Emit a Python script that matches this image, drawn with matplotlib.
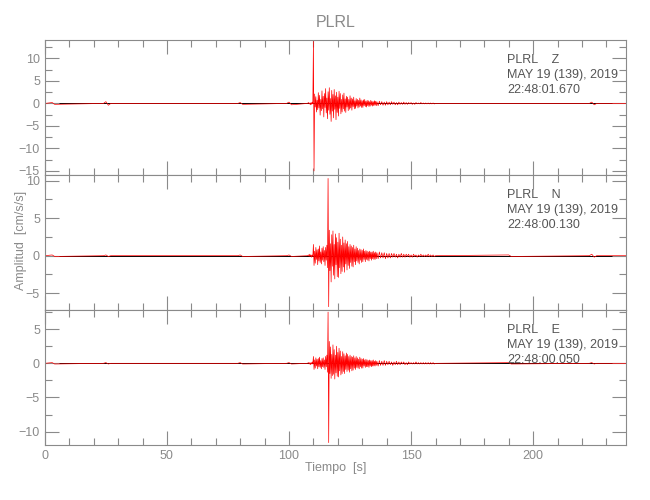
import numpy as np
import matplotlib
matplotlib.use('Agg')
import matplotlib.pyplot as plt
from matplotlib.ticker import MultipleLocator

plt.rcParams['font.family'] = ['Liberation Sans', 'DejaVu Sans']

# datos de las trazas (aceleracion, cm/s/s)
station = 'PLRL'
components = ['Z', 'N', 'E']
fecha = 'MAY 19 (139), 2019'
horas = ['22:48:01.670', '22:48:00.130', '22:48:00.050']

# llegada: muestras cada 0.25 s desde 108 s
fine_start = 108.0
fine_dt = 0.25
fine_z = [0.2, -0.1, 0.1, -0.3, 0.2, -0.2, 0.3, -0.1,
          13.8, -15.0, 2.1, -0.8, 1.5, -1.9, 0.7, -1.4,
          2.4, -1.0, 1.8, -2.6, 0.9, -1.6, 2.8, -1.2,
          1.6, -3.0, 2.2, -0.9, 3.3, -2.1, 1.2, -3.4,
          2.6, -1.5, 3.5, -2.4, 1.1, -4.0, 2.9, -1.7,
          2.0, -3.2, 3.1, -1.3, 1.7, -3.6, 2.5, -2.0,
          1.4, -2.8, 2.7, -1.1, 2.2, -2.3, 0.9, -1.9,
          1.9, -1.2, 2.3, -1.7, 1.0, -2.0, 1.6, -0.8,
          1.4, -1.6, 0.9, -1.3, 1.7, -1.0, 1.2, -1.5,
          1.0, -0.7, 1.4, -1.2, 0.6, -1.1, 1.1, -0.6,
          0.9, -1.0, 0.7, -0.8, 1.2, -0.6, 0.8, -0.9,
          0.6, -0.9, 0.8, -0.5, 0.9, -0.7, 0.5, -0.8,
          0.7, -0.5, 0.6, -0.7, 0.4, -0.6, 0.7, -0.4,
          0.5, -0.6, 0.4, -0.5, 0.6, -0.4, 0.5, -0.5]
fine_n = [0.1, -0.1, 0.2, -0.1, 0.1, -0.2, 0.1, -0.1,
          1.5, -1.3, 0.6, -1.0, 1.1, -0.5, 0.8, -1.2,
          0.9, -0.7, 1.3, -0.9, 0.5, -1.1, 1.0, -0.6,
          1.2, -0.8, 0.7, -1.3, 1.1, -0.6, 1.4, -1.6,
          10.3, -6.8, 3.4, -2.0, 1.6, -3.5, 2.8, -1.4,
          3.3, -2.6, 1.5, -3.1, 2.9, -1.2, 2.4, -2.8,
          1.8, -2.9, 3.0, -1.6, 2.2, -2.4, 1.4, -2.1,
          2.5, -1.5, 1.7, -2.2, 2.1, -1.1, 1.6, -1.9,
          1.9, -1.3, 1.2, -1.7, 1.5, -0.9, 1.3, -1.4,
          1.1, -1.5, 1.4, -0.8, 0.9, -1.2, 1.2, -0.7,
          1.0, -0.9, 0.7, -1.1, 0.9, -0.6, 0.8, -0.9,
          0.7, -0.8, 0.9, -0.5, 0.6, -0.8, 0.7, -0.5,
          0.6, -0.6, 0.5, -0.7, 0.6, -0.4, 0.5, -0.6,
          0.5, -0.4, 0.6, -0.5, 0.4, -0.5, 0.5, -0.4]
fine_e = [0.1, -0.1, 0.1, -0.2, 0.1, -0.1, 0.2, -0.1,
          1.0, -0.9, 0.5, -0.7, 0.8, -0.4, 0.6, -0.8,
          0.7, -0.5, 0.9, -0.6, 0.4, -0.8, 0.7, -0.5,
          0.8, -0.6, 0.5, -0.9, 1.0, -0.5, 1.2, -1.3,
          7.5, -11.6, 3.2, -1.5, 2.4, -2.2, 1.3, -1.8,
          2.7, -1.6, 2.0, -2.3, 1.2, -1.4, 2.5, -1.9,
          1.6, -2.0, 2.2, -1.1, 1.8, -1.7, 1.0, -1.5,
          1.7, -1.2, 1.4, -1.5, 1.1, -0.9, 1.5, -1.2,
          1.3, -1.0, 1.0, -1.3, 1.2, -0.8, 1.0, -1.1,
          0.9, -1.0, 1.1, -0.7, 0.8, -0.9, 1.0, -0.6,
          0.8, -0.7, 0.6, -0.8, 0.9, -0.5, 0.7, -0.7,
          0.6, -0.7, 0.7, -0.4, 0.5, -0.6, 0.6, -0.5,
          0.5, -0.5, 0.4, -0.6, 0.5, -0.4, 0.4, -0.5,
          0.4, -0.4, 0.5, -0.4, 0.3, -0.4, 0.4, -0.3]

# coda: muestras cada 0.5 s desde 136 s
tail_start = 136.0
tail_dt = 0.5
tail_z = [0.4, -0.5, 0.5, -0.3, 0.4, -0.4, 0.3, -0.4, 0.4, -0.3,
          0.3, -0.3, 0.4, -0.2, 0.3, -0.3, 0.2, -0.3, 0.3, -0.2,
          0.2, -0.2, 0.3, -0.2, 0.2, -0.2, 0.2, -0.1, 0.2, -0.2,
          0.1, -0.2, 0.2, -0.1, 0.1, -0.1, 0.2, -0.1, 0.1, -0.1,
          0.1, -0.1, 0.1, -0.1, 0.1, -0.1, 0.1, -0.1]
tail_n = [0.4, -0.4, 0.5, -0.3, 0.4, -0.3, 0.4, -0.4, 0.3, -0.3,
          0.3, -0.3, 0.3, -0.2, 0.3, -0.2, 0.2, -0.3, 0.2, -0.2,
          0.3, -0.2, 0.2, -0.2, 0.2, -0.1, 0.2, -0.2, 0.1, -0.2,
          0.2, -0.1, 0.1, -0.2, 0.1, -0.1, 0.2, -0.1, 0.1, -0.1,
          0.1, -0.1, 0.2, -0.1, 0.1, -0.1, 0.1, -0.1]
tail_e = [0.3, -0.4, 0.4, -0.3, 0.3, -0.3, 0.4, -0.3, 0.3, -0.2,
          0.3, -0.2, 0.2, -0.3, 0.2, -0.2, 0.3, -0.2, 0.2, -0.2,
          0.2, -0.1, 0.2, -0.2, 0.1, -0.2, 0.2, -0.1, 0.1, -0.1,
          0.1, -0.1, 0.2, -0.1, 0.1, -0.1, 0.1, -0.1, 0.1, -0.1,
          0.1, -0.1, 0.1, -0.1, 0.1, -0.1, 0.1, -0.1]

# ruido de fondo fuera de la llegada
quiet_t = [0, 3, 4, 24, 25, 26, 27, 79, 80, 81, 99, 100, 101, 107.5,
           160, 190, 191, 223, 224, 225, 226, 238]
quiet_z = [0, 0.2, -0.2, 0, 0.4, -0.4, 0, 0, 0.2, -0.2, 0, 0.3, -0.3, 0,
           0, 0, 0, 0, 0.3, -0.3, 0, 0]
quiet_n = [0, 0.1, -0.1, 0, 0.1, -0.1, 0, 0, 0.1, -0.1, 0, 0.1, -0.1, 0,
           0, 0.1, -0.1, 0, 0.2, -0.2, 0, 0]
quiet_e = [0, 0.1, -0.1, 0, 0.1, -0.1, 0, 0, 0.1, -0.1, 0, 0.1, -0.1, 0,
           0, 0.1, -0.1, 0, 0.1, -0.1, 0, 0]

ylims = [(-15.9, 14.1), (-7.24, 10.76), (-11.95, 7.8)]
xmax = 238

gris = '#8a8a8a'
texto = '#555555'

fig = plt.figure(figsize=(6.5, 5.0), dpi=100)
left, width = 0.069, 0.894
tops = [0.92, 0.65, 0.38]
h = 0.27

fines = [fine_z, fine_n, fine_e]
tails = [tail_z, tail_n, tail_e]
quiets = [quiet_z, quiet_n, quiet_e]
for k in range(3):
    ax = fig.add_axes([left, tops[k] - h, width, h])
    f = np.array(fines[k])
    tf = fine_start + fine_dt * np.arange(len(f))
    c = np.array(tails[k])
    tc = tail_start + tail_dt * np.arange(len(c))
    qt = np.array(quiet_t)
    qa = np.array(quiets[k])
    t = np.concatenate([qt[qt < fine_start], tf, tc, qt[qt > tc[-1]]])
    a = np.concatenate([qa[qt < fine_start], f, c, qa[qt > tc[-1]]])

    ax.axhline(0, color='black', lw=0.7, zorder=1)
    ax.plot(t, a, color='red', lw=0.5, zorder=2)
    ax.set_xlim(0, xmax)
    ax.set_ylim(*ylims[k])

    ax.xaxis.set_major_locator(MultipleLocator(50))
    ax.xaxis.set_minor_locator(MultipleLocator(10))
    ax.yaxis.set_major_locator(MultipleLocator(5))
    ax.yaxis.set_minor_locator(MultipleLocator(2.5))
    ax.tick_params(which='both', direction='in', top=True, right=True,
                   color=gris, labelcolor=gris, labelsize=9, width=0.8)
    ax.tick_params(which='major', length=10)
    ax.tick_params(which='minor', length=5)
    for s in ax.spines.values():
        s.set_color(gris)
        s.set_linewidth(0.8)
    if k < 2:
        ax.tick_params(labelbottom=False)

    # etiqueta de la componente
    y0 = 1 - (60 + 135 * k) / 500
    fig.text(0.78, y0, f'{station}    {components[k]}', color=texto, fontsize=9, va='center')
    fig.text(0.78, y0 - 15 / 500, fecha, color=texto, fontsize=9, va='center')
    fig.text(0.78, y0 - 30 / 500, horas[k], color=texto, fontsize=9, va='center')

fig.text(0.517, 0.955, station, color=gris, fontsize=11.5, ha='center', va='center')
fig.text(0.517, 0.064, 'Tiempo  [s]', color=gris, fontsize=9, ha='center', va='center')
fig.text(0.032, 0.52, 'Amplitud  [cm/s/s]', color=gris, fontsize=9, ha='center',
         va='center', rotation=90)

fig.savefig('out.png', dpi=100, facecolor='white')
